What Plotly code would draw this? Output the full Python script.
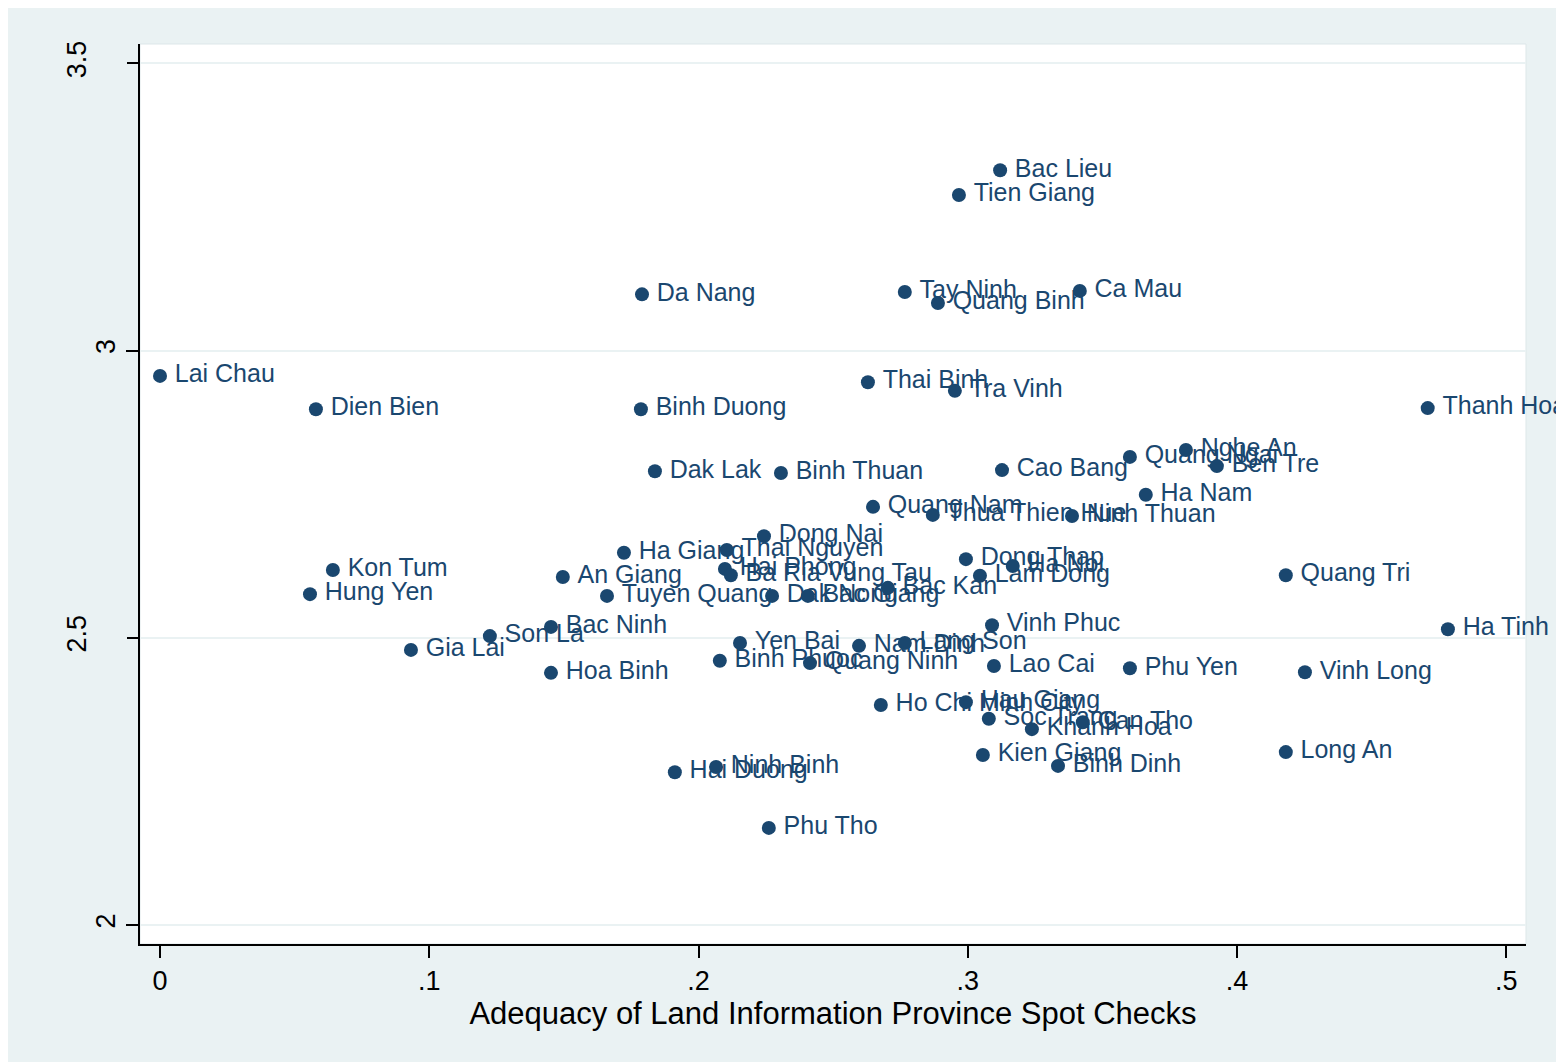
import plotly.graph_objects as go

# Province spot-check scores
provinces = [
    "Bac Lieu", "Tien Giang", "Da Nang", "Tay Ninh", "Quang Binh", "Ca Mau",
    "Lai Chau", "Thai Binh", "Tra Vinh", "Dien Bien", "Binh Duong", "Thanh Hoa",
    "Nghe An", "Quang Ngai", "Ben Tre", "Cao Bang", "Dak Lak", "Binh Thuan",
    "Ha Nam", "Quang Nam", "Thua Thien Hue", "Ninh Thuan", "Dong Nai", "Ha Giang",
    "Thai Nguyen", "Dong Thap", "Ha Noi", "Kon Tum", "Hai Phong", "Ba Ria Vung Tau",
    "An Giang", "Lam Dong", "Quang Tri", "Bac Kan", "Hung Yen", "Tuyen Quang",
    "Dak Nong", "Bac Giang", "Bac Ninh", "Vinh Phuc", "Ha Tinh", "Son La",
    "Yen Bai", "Lang Son", "Nam Dinh", "Gia Lai", "Binh Phuoc", "Quang Ninh",
    "Lao Cai", "Phu Yen", "Vinh Long", "Hoa Binh", "Ho Chi Minh City", "Hau Giang",
    "Soc Trang", "Can Tho", "Khanh Hoa", "Long An", "Kien Giang", "Binh Dinh",
    "Ninh Binh", "Hai Duong", "Phu Tho",
]

land_info = [
    0.312, 0.2967, 0.179, 0.2766, 0.2889, 0.3416,
    0.0, 0.2629, 0.2952, 0.0579, 0.1786, 0.4708,
    0.381, 0.3602, 0.3925, 0.3127, 0.1838, 0.2306,
    0.3661, 0.2648, 0.287, 0.3387, 0.2243, 0.1723,
    0.2105, 0.2993, 0.3167, 0.0642, 0.2098, 0.212,
    0.1496, 0.3045, 0.4181, 0.2703, 0.0557, 0.166,
    0.2273, 0.2406, 0.1452, 0.309, 0.4783, 0.1225,
    0.2154, 0.2766, 0.2596, 0.0932, 0.2079, 0.2414,
    0.3097, 0.3602, 0.4252, 0.1452, 0.2677, 0.2993,
    0.3078, 0.3427, 0.3238, 0.4181, 0.3056, 0.3335,
    0.2065, 0.1912, 0.2261,
]

score = [
    3.314, 3.271, 3.098, 3.102, 3.083, 3.104,
    2.956, 2.945, 2.930, 2.898, 2.898, 2.900,
    2.827, 2.815, 2.799, 2.792, 2.790, 2.787,
    2.749, 2.728, 2.714, 2.712, 2.677, 2.648,
    2.653, 2.637, 2.625, 2.618, 2.620, 2.609,
    2.606, 2.608, 2.609, 2.587, 2.576, 2.573,
    2.573, 2.573, 2.519, 2.522, 2.515, 2.503,
    2.491, 2.491, 2.486, 2.479, 2.460, 2.456,
    2.451, 2.447, 2.440, 2.439, 2.383, 2.388,
    2.359, 2.353, 2.341, 2.301, 2.296, 2.277,
    2.275, 2.266, 2.169,
]

x_ticks = [0, 0.1, 0.2, 0.3, 0.4, 0.5]
x_tick_labels = ["0", ".1", ".2", ".3", ".4", ".5"]
y_ticks_short = [2, 3]
y_ticks_long = [2.5, 3.5]

NAVY = "#1a476f"
BG = "#eaf2f3"
FONT = "Liberation Sans, Arial, sans-serif"

x_range = [-0.00743, 0.5073]
y_range = [1.9669, 3.5339]

fig = go.Figure()

fig.add_trace(go.Scatter(
    x=land_info,
    y=score,
    mode="markers+text",
    text=["\u2009" + p for p in provinces],
    textposition="middle right",
    textfont=dict(family=FONT, size=25, color=NAVY),
    marker=dict(size=14, color=NAVY, line=dict(width=0)),
    cliponaxis=False,
    showlegend=False,
    hoverinfo="text",
))

# empty trace so the second y axis (2.5 / 3.5 labels) gets drawn
fig.add_trace(go.Scatter(x=[None], y=[None], yaxis="y2", mode="markers",
                         showlegend=False, hoverinfo="skip"))

# plot region outline
fig.add_shape(type="rect", xref="paper", yref="paper",
              x0=0, x1=1, y0=0, y1=1,
              line=dict(color="#dde7e9", width=1), layer="below")

tick_common = dict(
    ticks="outside",
    ticklen=12,
    tickwidth=1.5,
    tickcolor="black",
    tickfont=dict(size=27, color="black"),
    zeroline=False,
)

fig.update_layout(
    width=1564,
    height=1062,
    margin=dict(l=132, r=46, t=36, b=126),
    paper_bgcolor=BG,
    plot_bgcolor="white",
    font=dict(family=FONT, color="black"),
    xaxis=dict(
        range=x_range,
        tickvals=x_ticks,
        ticktext=x_tick_labels,
        showline=True,
        linecolor="black",
        linewidth=1.5,
        showgrid=False,
        title=dict(text="Adequacy of Land Information Province Spot Checks",
                   font=dict(size=31, color="black"), standoff=0),
        **tick_common,
    ),
    yaxis=dict(
        range=y_range,
        tickvals=y_ticks_short,
        ticktext=["2", "3"],
        tickangle=-90,
        showline=True,
        linecolor="black",
        linewidth=1.5,
        showgrid=True,
        gridcolor=BG,
        gridwidth=2,
        **tick_common,
    ),
    yaxis2=dict(
        range=y_range,
        overlaying="y",
        side="left",
        tickvals=y_ticks_long,
        ticktext=["2.5", "3.5"],
        tickangle=-90,
        ticklabelstandoff=30,
        showline=False,
        showgrid=True,
        gridcolor=BG,
        gridwidth=2,
        **tick_common,
    ),
)

fig.write_html("out.html")
